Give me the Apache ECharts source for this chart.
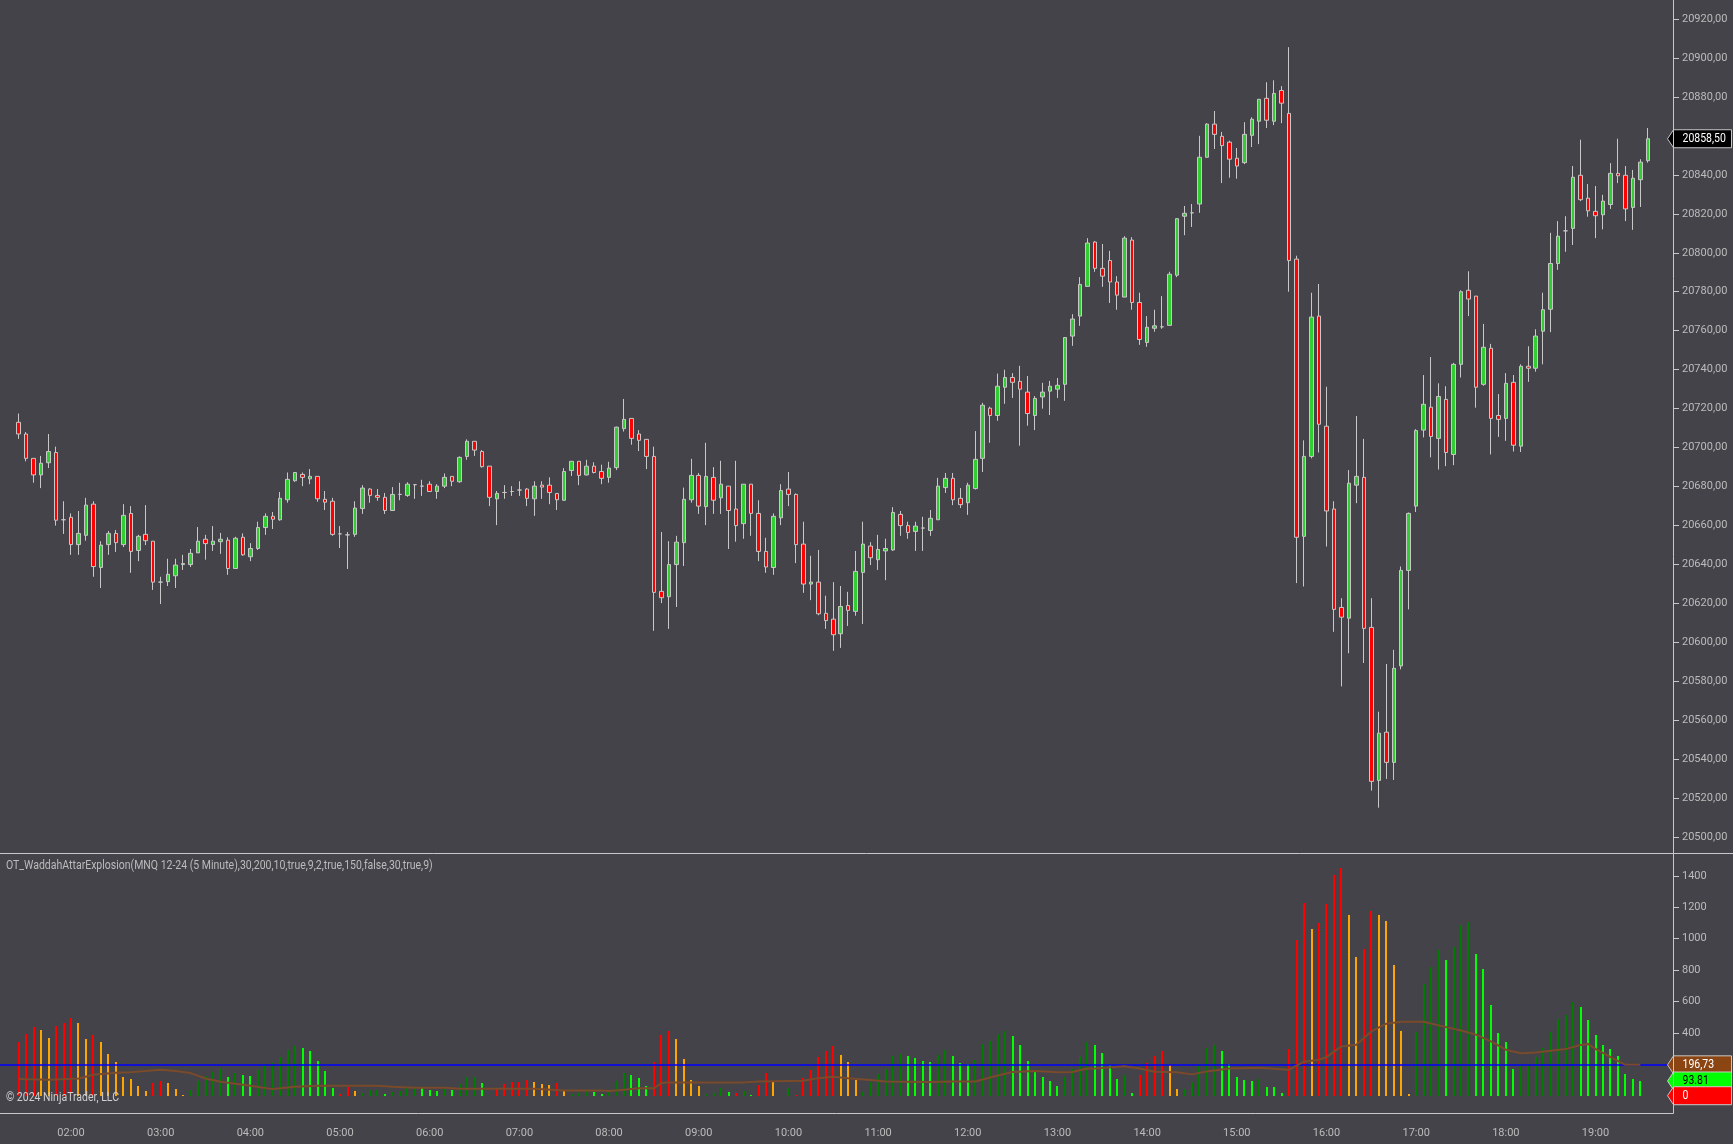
<!DOCTYPE html>
<html>
<head>
<meta charset="utf-8">
<title>MNQ 12-24 (5 Minute)</title>
<script src="https://cdn.jsdelivr.net/npm/echarts@6/dist/echarts.min.js"></script>
<style>
  html, body { margin: 0; padding: 0; background: #434349; }
  #chart { width: 1733px; height: 1144px; }
</style>
</head>
<body>
<div id="chart"></div>
<script>
// 5 minute bars, first one is 01:25
const opens = [
  20713,20707,20694.5,20686,20692.25,20697.5,20663,20664.25,20650.25,20655,
  20671,20638.5,20650.25,20656,20650.25,20666.25,20647.25,20655.5,20652,20631,
  20631.25,20634.25,20640,20640,20646,20653,20650.25,20651.75,20652.5,20638,
  20654,20644,20648.25,20659,20664.75,20663,20673.25,20683,20686.25,20684,
  20685.25,20673.5,20672.5,20655.75,20655.25,20655.5,20668.75,20678.75,20675.5,20674.5,
  20667.75,20676,20675.5,20681,20680.25,20681.25,20677.5,20680.25,20685.25,20682.5,
  20695.5,20703.25,20698,20690.5,20673.75,20677,20677.5,20678.25,20678.75,20673.75,
  20680.75,20680.75,20676.5,20673,20688.25,20693,20686,20690.5,20687.75,20684.75,
  20689.75,20709.75,20715,20707,20704.25,20695.5,20626.25,20623.5,20640,20651.25,
  20673.25,20685.75,20669.75,20684.75,20674.25,20680.25,20668.5,20661,20681.25,20666.25,
  20646.75,20638.5,20664,20678.75,20676,20650.5,20630,20631,20615,20612,
  20604.5,20619,20616,20636,20649.5,20642.5,20647,20647.5,20665.75,20660,
  20657,20658.75,20657.5,20663,20679.5,20684.25,20674,20671.75,20679,20694.5,
  20720.25,20716.5,20731,20736,20734,20728.5,20716.5,20726,20729,20730,
  20732.5,20757.25,20767.5,20782.75,20805.5,20792,20796,20785,20777.25,20806.5,
  20774.5,20754,20761.25,20762,20762.75,20788.5,20818.75,20820.5,20825,20849,
  20866,20859.75,20856.75,20848.5,20846.25,20860.25,20867.5,20879.25,20867.5,20883.25,
  20871.5,20796.75,20654.5,20695.5,20767.5,20711,20668.5,20618,20612.5,20680.75,
  20684.75,20607.75,20529.25,20554,20538.5,20588,20637,20670,20709,20720.75,
  20704.75,20724.75,20696.5,20742.75,20780.75,20777.75,20732.5,20751,20716.5,20715,
  20733.5,20700.75,20741.75,20740.75,20759.75,20771,20794.5,20811.25,20812.5,20839.75,
  20828,20821.25,20819.5,20824.75,20840.75,20839.75,20823.25,20837.5,20847.25
];
const closes = [
  20707,20694.5,20686,20692,20698,20662.75,20663,20650.25,20656,20670.5,
  20639,20650,20656,20651.25,20665.25,20646.75,20654.5,20652.25,20631,20631,
  20635,20639.75,20640.5,20645.75,20652,20650.75,20652,20653,20638,20653.5,
  20645,20648.25,20659,20664.75,20663.25,20674,20683.75,20687.25,20684.75,20685.25,
  20673.75,20672,20655.5,20655.75,20655.25,20669,20679.25,20675.5,20674.5,20667.75,
  20676,20676,20681.25,20681,20680.25,20677.5,20680.25,20684.75,20682.75,20695,
  20703.25,20698.75,20690.25,20674.5,20676.5,20677,20677.5,20678.25,20674,20680.25,
  20679.75,20677,20673.25,20687.75,20693,20685.75,20690.5,20687.25,20684.25,20689.5,
  20710.5,20714.5,20704.75,20703.75,20695.5,20625.75,20623,20640,20651.5,20673.5,
  20685.75,20670,20685.25,20673,20681.25,20667.75,20660,20681.25,20666.25,20646.75,
  20638.75,20664.75,20678,20676,20650.25,20630,20631,20614.75,20611.25,20604,
  20618.5,20616.5,20636.5,20650.5,20643.5,20647.75,20648.25,20666.75,20660,20656.5,
  20659.75,20658.75,20663.75,20680.25,20684.25,20673.25,20670.75,20680.75,20694,20721.75,
  20716.5,20731.5,20736,20733.5,20730,20717.5,20725.25,20728.5,20731.5,20732,
  20756.5,20766,20783.75,20805,20792,20788,20785,20778.25,20807.5,20774.5,
  20755.5,20761.75,20762.5,20762,20789,20817.5,20820.25,20820.5,20849,20866,
  20860.75,20855,20848,20844.5,20860.75,20868.5,20878.75,20868,20881.75,20876.75,
  20796,20654,20695.5,20767,20712,20667.5,20617,20613,20681.75,20685.25,
  20607.25,20528.75,20553.5,20538.5,20586.75,20637,20666.25,20708.75,20722.25,20705.75,
  20726.25,20697.5,20742.75,20780,20776.25,20731,20751.5,20715,20714.5,20733,
  20701.25,20741.75,20740.75,20757.25,20770.75,20794.5,20808.5,20811.25,20838.75,20827.25,
  20821.5,20819,20826.5,20840.75,20839.5,20822.5,20838.25,20846.5,20858.5
];
const highs = [
  20717.5,20708,20694.5,20695.75,20707,20700.5,20672.5,20666.25,20667.5,20674.25,
  20672.5,20652,20657.25,20657.75,20671,20670,20655.25,20670.5,20652,20633.75,
  20643,20643,20645,20648,20659.25,20655.25,20659.75,20656.25,20654,20654.25,
  20656,20651,20662,20666.25,20667,20677.25,20687.25,20687.25,20687.25,20689,
  20685.25,20677.75,20674.25,20659.75,20656.75,20672.5,20680.75,20679.25,20678.75,20676.75,
  20679.75,20682,20682.25,20681.25,20683.5,20682.75,20681.25,20686.75,20685.25,20695.5,
  20704.25,20703.25,20698.75,20690.5,20677.75,20680.75,20680.25,20682.75,20679.25,20682.75,
  20682.75,20684.75,20676.5,20689.5,20693,20693,20693.75,20692.5,20691.25,20692.75,
  20710.75,20725,20715,20709,20704.25,20700.5,20656.75,20652,20654.75,20679.5,
  20694.25,20687,20702.5,20690,20693.25,20680.25,20693.25,20681.25,20681.25,20673,
  20653.75,20666.25,20681.25,20687.5,20676.5,20662,20644.5,20647.5,20624,20631,
  20629,20626,20647,20662,20651.5,20655.25,20653.25,20669.5,20667.5,20662,
  20662,20664.5,20668,20684.5,20687,20687,20679.25,20682,20708.5,20723,
  20721,20738,20740,20738.25,20742,20736.75,20726.5,20733.25,20734.25,20735.75,
  20756.75,20768.5,20787.5,20807.5,20806,20804.5,20801,20788,20808.5,20808,
  20779.5,20767.5,20770.75,20777.75,20790.25,20817.75,20824,20825,20860,20866.5,
  20872.75,20862,20857.5,20853.75,20867,20869.5,20878.75,20887.5,20888.5,20885.5,
  20905.5,20798.5,20703.75,20779.5,20784,20731.25,20672.5,20622.75,20688.5,20716.25,
  20704.5,20622.75,20564.5,20589,20596.25,20639,20666.75,20709.5,20737.25,20746.5,
  20733,20731.5,20743.5,20780.75,20790.5,20777.75,20763.5,20753.25,20727.5,20738.25,
  20737.25,20742.75,20752,20760.75,20779.5,20810.25,20816.25,20818.75,20844.5,20858,
  20835.25,20834.25,20829.75,20846,20858.5,20844.5,20842.5,20848,20864
];
const lows = [
  20704.5,20693,20682,20679.25,20689.5,20660,20655.75,20645,20645,20652.25,
  20633.75,20628,20645,20646.5,20649,20635.75,20641.75,20650,20627,20619.75,
  20629,20628,20637.25,20638.75,20646,20642.5,20647,20645.5,20634.75,20638,
  20644.5,20641.75,20647.5,20655.25,20658.25,20662.5,20671.75,20682.5,20680.25,20681.25,
  20672.25,20668,20654.75,20648.5,20637.75,20654.25,20666,20671.75,20672.75,20666,
  20667.5,20673,20674.75,20673.75,20675.25,20677.25,20673.75,20679.25,20680.25,20682,
  20693.75,20695.75,20689.75,20670,20660.25,20673.75,20675.25,20675.25,20670,20665,
  20673.75,20671,20668,20672.75,20685.5,20680.75,20685.75,20686.75,20681.25,20682,
  20688.5,20708.25,20701.5,20698.25,20689,20606,20620.25,20607,20618.25,20639.25,
  20671.75,20666,20660.25,20666,20666,20648,20651.75,20653.25,20654.75,20641.75,
  20635.75,20634.75,20660.25,20670,20640.75,20625.5,20621.75,20614,20607,20595.75,
  20597.25,20608.5,20613.75,20609.5,20639.75,20637.25,20632,20647,20654.75,20653.25,
  20647,20647,20654.75,20663,20676.75,20670.5,20669,20665.5,20678.5,20687.5,
  20702.5,20713.75,20722.5,20725.5,20701,20711.25,20709,20720,20716.75,20725.5,
  20724,20752.25,20762.5,20782.75,20790.25,20782.5,20774.25,20770.75,20777.25,20770.75,
  20752.75,20751.75,20759.5,20761,20762.5,20787.5,20809,20813.25,20820.5,20848.75,
  20853.25,20835.75,20838.5,20838,20845.5,20854.25,20855.75,20864,20865.5,20866.5,
  20780,20630.5,20628.75,20694.5,20697.5,20649.25,20605.5,20577.5,20594.5,20671.5,
  20589.5,20524,20515.25,20530,20529.5,20586.25,20617,20667,20705.25,20695,
  20688.75,20690.5,20691,20736,20767.5,20720.5,20731.75,20696.5,20705.5,20703.5,
  20698,20697.75,20733.75,20739,20742.75,20759.25,20791.25,20800.5,20804,20826.5,
  20818.5,20807.5,20812,20822.5,20835.75,20816.25,20811.75,20823.5,20846.25
];

// indicator histogram, the last bar has no value yet
const waeValues = [
  344,395,439,420,369,446,465,497,465,363,
  389,344,267,217,121,108,64,32,83,96,
  83,45,6,38,96,127,153,172,121,146,
  134,127,166,204,210,248,293,318,306,287,
  223,159,51,13,57,32,19,38,38,13,
  25,32,51,57,51,38,32,45,38,76,
  121,121,83,null,45,76,89,89,102,89,
  76,70,83,32,13,19,32,25,13,21,
  96,146,134,115,64,217,389,414,363,236,
  102,64,13,19,51,25,19,30,6,70,
  146,89,null,51,6,115,166,248,287,318,
  261,217,102,25,89,140,172,255,267,255,
  242,223,217,261,293,255,210,204,229,331,
  350,395,414,382,325,223,166,121,96,64,
  121,172,248,344,325,274,197,108,134,19,
  134,208,255,287,197,45,45,89,197,306,
  325,287,204,121,102,96,108,57,57,19,
  297,994,1227,1064,1100,1223,1408,1452,1153,885,
  936,1176,1153,1115,834,412,11,408,713,822,
  930,866,947,1089,1108,904,809,580,401,344,
  172,195,204,248,306,408,490,516,599,567,
  484,389,325,299,255,140,108,93.81
];
// R red, O orange, D dark green, G green, _ empty
const waeKinds = (
  'RRROORRROO' + 'ROOOOOOORR' + 'OOODDDDDGD' + 'GGDDDDDDGG' + 'GGGRRODDDG' +
  'DDDDGGGDGD' + 'DDG_RRRRRO' + 'OORODDDGGD' + 'DDGGGRRROO' +
  'OODDDGRDGR' + 'RO_DRRRRRR' + 'OOODDDDDDG' + 'GGGDDGGGDD' + 'DDDGGGGGGG' +
  'DDDDGGGGDG' + 'RRRROODDDD' + 'DGGGGGDGGG' + 'RRRORRRROO' + 'RROOOOODDD' +
  'DGDDDGGGGG' + 'GDDDDDDDDG' + 'GGGGGGGG'
).split('');
const kindColors = { R: '#ff0000', O: '#ffa500', D: '#007a00', G: '#00ff00' };

// signal line, read at these bars
const signalBars = [0,4,8,10,13,15,17,19,21,23,25,27,29,31,34,35,37,40,48,50,53,57,59,64,69,73,78,79,81,83,85,86,87,91,97,99,105,107,109,111,114,116,122,125,128,131,133,136,139,141,143,144,148,150,152,155,157,159,162,166,170,172,174,175,177,179,181,183,185,188,191,193,195,197,199,201,203,205,207,209,210,211,213,215,217];
const signalValues = [106,102,110,134,146,149,157,166,157,144,110,89,76,64,42,47,57,64,64,57,51,51,45,45,45,34,34,30,38,47,47,81,85,85,85,91,96,112,121,112,100,91,87,91,91,129,151,157,149,151,174,174,187,174,153,149,136,155,174,178,166,217,229,246,314,325,410,459,471,471,437,416,389,346,293,270,276,287,297,323,329,299,246,197,196.73];

const explosionLevel = 200;
const priceTicks = [20500,20520,20540,20560,20580,20600,20620,20640,20660,20680,20700,20720,20740,20760,20780,20800,20820,20840,20860,20880,20900,20920];
const waeTicks = [400,600,800,1000,1200,1400];

const leadBars = 2;   // empty slots left of the first bar
const slotCount = 224;
const barTimes = [];
for (let i = 0; i < slotCount; i++) {
  const m = 75 + i * 5;
  barTimes.push(String(Math.floor(m / 60)).padStart(2, '0') + ':' + String(m % 60).padStart(2, '0'));
}

const GRID_COLOR = '#c8c8c8';
const TEXT_COLOR = '#bcbcbc';
const FONT = 'Roboto, sans-serif';
const NARROW = 0.875;  // the chart's own font is narrower than Roboto

const isHour = i => barTimes[i].endsWith(':00');

// value flag on the right side of the axis, same look for all of them
function flagRender(fill, textFill, label) {
  return function (params, api) {
    const y = api.coord([0, api.value(1)])[1];
    const x = params.coordSys.x + params.coordSys.width - 0.5;
    return {
      type: 'group',
      children: [
        {
          type: 'polygon',
          shape: { points: [[x - 6, y], [x, y - 9], [x + 58, y - 9], [x + 58, y + 9], [x, y + 9]] },
          style: { fill: fill, stroke: GRID_COLOR, lineWidth: 1 }
        },
        {
          type: 'text',
          x: x + 9,
          y: y,
          scaleX: NARROW,
          style: { text: label, fill: textFill, font: '12px ' + FONT, verticalAlign: 'middle' }
        }
      ]
    };
  };
}

// thin histogram bars snapped to whole pixels
function waeBarRender(params, api) {
  const v = api.value(1);
  if (isNaN(v)) return;
  const top = api.coord([api.value(0), v]);
  const base = api.coord([api.value(0), 0]);
  return {
    type: 'rect',
    shape: {
      x: Math.round(top[0]) - 1,
      y: Math.round(top[1]),
      width: 2,
      height: Math.round(base[1]) - Math.round(top[1])
    },
    style: api.style()
  };
}

const chart = echarts.init(document.getElementById('chart'), null, { renderer: 'canvas' });

chart.setOption({
  animation: false,
  backgroundColor: '#434349',
  textStyle: { fontFamily: FONT },
  grid: [
    { left: -0.6, top: 0, width: 1674.6, height: 853 },
    { left: -0.6, top: 853.5, width: 1674.6, height: 259.8 }
  ],
  xAxis: [
    { type: 'category', gridIndex: 0, data: barTimes, show: false },
    {
      type: 'category',
      gridIndex: 1,
      data: barTimes,
      axisLine: { show: false, onZero: false },
      axisTick: { alignWithLabel: true, interval: isHour, length: 4, lineStyle: { color: GRID_COLOR } },
      axisLabel: { interval: isHour, color: TEXT_COLOR, fontSize: 11, margin: 14 }
    }
  ],
  yAxis: [
    {
      type: 'value',
      gridIndex: 0,
      position: 'right',
      min: 20492,
      max: 20929.7,
      splitLine: { show: false },
      axisLine: { show: false },
      axisTick: { show: true, length: 5, customValues: priceTicks, lineStyle: { color: GRID_COLOR } },
      axisLabel: {
        customValues: priceTicks,
        color: TEXT_COLOR,
        fontSize: 11,
        margin: 8,
        padding: [2, 0, 0, 0],
        formatter: v => v.toFixed(2).replace('.', ',')
      }
    },
    {
      type: 'value',
      gridIndex: 1,
      position: 'right',
      min: -112,
      max: 1543,
      splitLine: { show: false },
      axisLine: { show: false },
      axisTick: { show: true, length: 5, customValues: waeTicks, lineStyle: { color: GRID_COLOR } },
      axisLabel: { customValues: waeTicks, color: TEXT_COLOR, fontSize: 11, margin: 8, formatter: v => String(v) }
    }
  ],
  series: [
    {
      type: 'candlestick',
      xAxisIndex: 0,
      yAxisIndex: 0,
      barWidth: 4,
      encode: { x: 0, y: [1, 2, 3, 4] },
      data: opens.map((o, i) => [i + leadBars, o, closes[i], lows[i], highs[i]]),
      itemStyle: {
        color: '#32cd32',
        color0: '#ff0000',
        borderColor: GRID_COLOR,
        borderColor0: GRID_COLOR,
        borderColorDoji: GRID_COLOR,
        borderWidth: 1
      }
    },
    {
      type: 'custom',
      xAxisIndex: 1,
      yAxisIndex: 1,
      encode: { x: 0, y: 1 },
      renderItem: waeBarRender,
      data: waeValues.map((v, i) => ({
        value: [i + leadBars, v],
        itemStyle: { color: kindColors[waeKinds[i]] }
      })),
      markLine: {
        silent: true,
        symbol: 'none',
        label: { show: false },
        lineStyle: { color: '#0000ff', width: 1.5, type: 'solid' },
        data: [{ yAxis: explosionLevel }]
      }
    },
    {
      type: 'line',
      xAxisIndex: 1,
      yAxisIndex: 1,
      showSymbol: false,
      symbol: 'none',
      z: 5,
      lineStyle: { color: '#7a4a2a', width: 2 },
      data: signalBars.map((b, i) => [b + leadBars, signalValues[i]])
    },
    {
      type: 'custom',
      xAxisIndex: 0,
      yAxisIndex: 0,
      z: 10,
      data: [[0, closes[closes.length - 1]]],
      renderItem: flagRender('#000000', '#ffffff', closes[closes.length - 1].toFixed(2).replace('.', ','))
    },
    {
      type: 'custom',
      xAxisIndex: 1,
      yAxisIndex: 1,
      z: 10,
      data: [[0, signalValues[signalValues.length - 1]]],
      renderItem: flagRender('#8b4513', '#ffffff', '196,73')
    },
    {
      type: 'custom',
      xAxisIndex: 1,
      yAxisIndex: 1,
      z: 11,
      data: [[0, waeValues[waeValues.length - 1]]],
      renderItem: flagRender('#00ff00', '#000000', '93.81')
    },
    {
      type: 'custom',
      xAxisIndex: 1,
      yAxisIndex: 1,
      z: 12,
      data: [[0, 0]],
      renderItem: flagRender('#ff0000', '#ffffff', '0')
    }
  ],
  graphic: [
    // panel frame
    { type: 'line', z: 20, shape: { x1: 1673.5, y1: 0, x2: 1673.5, y2: 1113.5 }, style: { stroke: GRID_COLOR, lineWidth: 1 } },
    { type: 'line', z: 20, shape: { x1: 0, y1: 853.5, x2: 1733, y2: 853.5 }, style: { stroke: GRID_COLOR, lineWidth: 1 } },
    { type: 'line', z: 20, shape: { x1: 0, y1: 1113.5, x2: 1673.5, y2: 1113.5 }, style: { stroke: GRID_COLOR, lineWidth: 1 } },
    {
      type: 'text', z: 20, x: 6, y: 866, scaleX: NARROW,
      style: {
        text: 'OT_WaddahAttarExplosion(MNQ 12-24 (5 Minute),30,200,10,true,9,2,true,150,false,30,true,9)',
        fill: TEXT_COLOR, font: '12px ' + FONT, verticalAlign: 'middle'
      }
    },
    {
      type: 'text', z: 20, x: 6, y: 1098, scaleX: NARROW,
      style: { text: '\u00a9 2024 NinjaTrader, LLC', fill: '#d0d0d0', font: '12px ' + FONT, verticalAlign: 'middle' }
    }
  ]
});
</script>
</body>
</html>
